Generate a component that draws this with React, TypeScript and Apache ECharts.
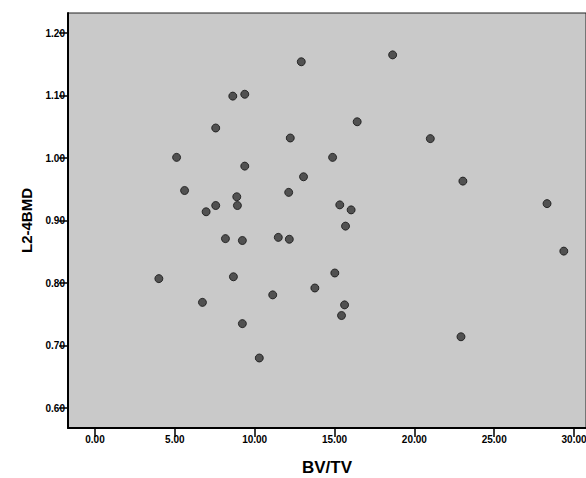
import React, { useEffect, useRef } from "react";
import * as echarts from "echarts";

const bvtv = [
  12.92, 8.63, 9.38, 7.56, 12.23, 5.11, 9.38, 13.06, 5.61, 12.13, 8.88, 7.56, 8.92,
  6.96, 8.17, 9.23, 11.48, 12.17, 4.0, 8.67, 13.77, 11.13, 6.73, 9.23, 10.29,
  18.64, 16.42, 21.0, 14.88, 23.04, 28.31, 15.33, 16.04, 15.69, 29.36, 15.02, 15.63,
  15.44, 22.92,
];
const l24bmd = [
  1.154, 1.099, 1.102, 1.048, 1.032, 1.001, 0.987, 0.97, 0.948, 0.945, 0.938, 0.924,
  0.924, 0.914, 0.871, 0.868, 0.873, 0.87, 0.807, 0.81, 0.792, 0.781, 0.769, 0.735,
  0.68, 1.165, 1.058, 1.031, 1.001, 0.963, 0.927, 0.925, 0.917, 0.891, 0.851, 0.816,
  0.765, 0.748, 0.714,
];
const xTicks = [0, 5, 10, 15, 20, 25, 30];
const yTicks = [0.6, 0.7, 0.8, 0.9, 1.0, 1.1, 1.2];

const FONT = "'Liberation Sans', Arial, sans-serif";

export default function App() {
  const ref = useRef<HTMLDivElement>(null);
  useEffect(() => {
    const chart = echarts.init(ref.current!, null, { renderer: "svg" });
    const points = bvtv.map((x, i) => [x, l24bmd[i]]);
    chart.setOption({
      animation: false,
      backgroundColor: "#ffffff",
      grid: {
        left: 68,
        top: 13,
        right: 0,
        bottom: 50,
        show: true,
        backgroundColor: "#c9c9c9",
        borderColor: "#222",
        borderWidth: 1,
        containLabel: false,
        outerBoundsMode: "none",
      },
      xAxis: {
        type: "value",
        min: -1.69,
        max: 30.75,
        name: "BV/TV",
        nameLocation: "middle",
        nameGap: 31,
        nameTextStyle: { fontFamily: FONT, fontWeight: "bold", fontSize: 17, color: "#000" },
        axisLine: { show: true, onZero: false, lineStyle: { color: "#000", width: 2 } },
        axisTick: { show: true, length: 9, customValues: xTicks, lineStyle: { color: "#000", width: 1.5 } },
        axisLabel: {
          customValues: xTicks,
          margin: 6,
          fontFamily: FONT,
          fontWeight: "bold",
          fontSize: 10,
          color: "#000",
          formatter: (v: number) => v.toFixed(2),
        },
        splitLine: { show: false },
      },
      yAxis: {
        type: "value",
        min: 0.568,
        max: 1.232,
        name: "L2-4BMD",
        nameLocation: "middle",
        nameGap: 34,
        nameRotate: 90,
        nameTextStyle: { fontFamily: FONT, fontWeight: "bold", fontSize: 15, color: "#000" },
        axisLine: { show: true, onZero: false, lineStyle: { color: "#000", width: 2 } },
        axisTick: { show: true, length: 9, customValues: yTicks, lineStyle: { color: "#000", width: 1.5 } },
        axisLabel: {
          customValues: yTicks,
          margin: 3,
          fontFamily: FONT,
          fontWeight: "bold",
          fontSize: 10,
          color: "#000",
          formatter: (v: number) => v.toFixed(2),
        },
        splitLine: { show: false },
      },
      series: [
        {
          type: "scatter",
          data: points,
          symbol: "circle",
          symbolSize: 8,
          itemStyle: { color: "#333333", borderColor: "#111", borderWidth: 1 },
        },
      ],
    });
    return () => chart.dispose();
  }, []);
  return (
    <div
      ref={ref}
      style={{ position: "absolute", left: 0, top: 0, width: 586, height: 478, background: "#fff" }}
    />
  );
}
